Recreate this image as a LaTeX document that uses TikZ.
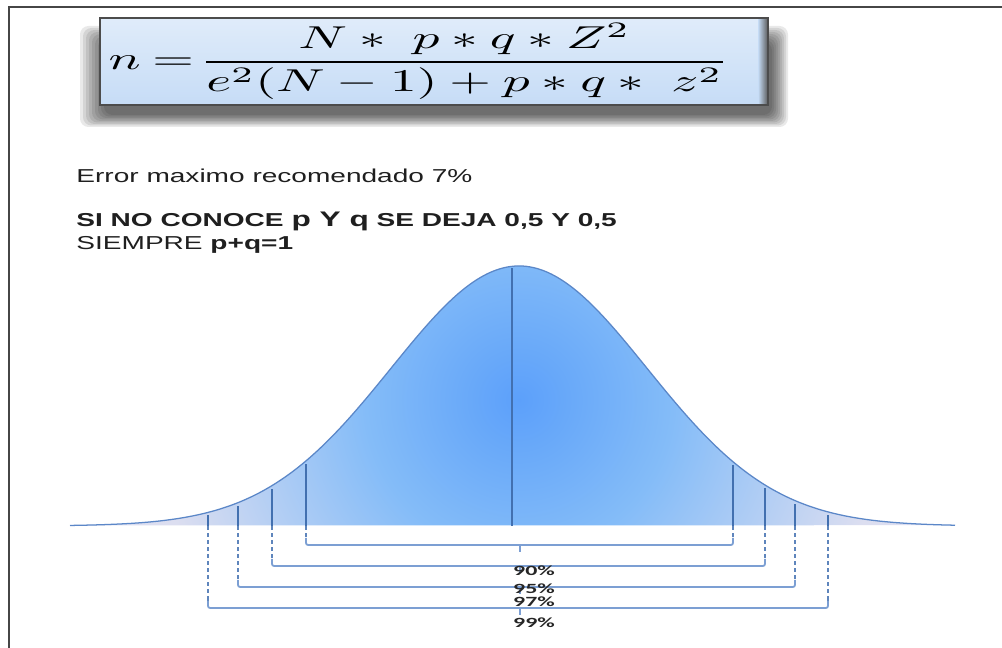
\documentclass[tikz,border=0pt]{standalone}
\usepackage{amsmath}
\usepackage{xcolor}
\usepackage{fontspec}
\setmainfont{Liberation Sans}
\newfontfamily\pctfont{Carlito}
\usepackage{tikz}

\definecolor{boxblue}{HTML}{C6DCF6}
\definecolor{curveline}{HTML}{5B87C8}
\definecolor{tickblue}{HTML}{4270B0}
\definecolor{brkblue}{HTML}{7C9FD3}
\definecolor{bellin}{HTML}{5CA0FA}
\definecolor{bellmid}{HTML}{84BCF8}
\definecolor{bellout}{HTML}{DCDEF0}

\pgfdeclareradialshading{bellshade}{\pgfpoint{0bp}{0bp}}{%
  color(0bp)=(bellin); color(8bp)=(bellmid); color(19bp)=(bellout); color(50bp)=(bellout)}

\tikzset{
  txt/.style={font=\fontsize{13.3}{16}\selectfont,text=black!88,xscale=1.5,transform shape,inner sep=0pt,anchor=base west},
  pct/.style={font=\pctfont\bfseries\fontsize{10}{10}\selectfont,text=black!85,xscale=1.7,transform shape,inner sep=0pt},
  tick/.style={tickblue,line width=1.1pt},
  guide/.style={tickblue!85,line width=0.8pt,dash pattern=on 3pt off 2pt},
  brk/.style={brkblue,line width=1.3pt,rounded corners=1.5pt}
}

\begin{document}
\begin{tikzpicture}[x=0.025cm,y=-0.025cm,
  declare function={bell(\t)=526-260*exp(-0.5*((\t-519)/128)^2);}]
\useasboundingbox (0,0) rectangle (1002,648);
\fill[white] (0,0) rectangle (1002,648);
\draw[gray!55!black,line width=1.2pt] (9,648) -- (9,7) -- (1002,7);

% formula box with soft shadow
\foreach \s in {0,...,8}
  \fill[black,opacity=0.085,rounded corners=6pt] (104-3*\s,42-2*\s) rectangle (772+2*\s,115+1.5*\s);
\shade[top color=boxblue!55!white,bottom color=boxblue] (100,18) rectangle (768,105);
\shade[left color=boxblue,right color=gray!70!black] (758,18) rectangle (768,105);
\draw[gray!60!black,line width=1pt] (100,18) rectangle (768,105);
\begin{scope}
\clip (101,19) rectangle (767,104);
\node[anchor=base east,xscale=3.8,yscale=2.25,transform shape,inner sep=0pt] (formula) at (730,70)
  {$n\mkern-1mu=\mkern-3mu\dfrac{N *\ p*q*Z^2}{e^2(N-1)+p*q*\ z^2}$};
\end{scope}

% texts
\node[txt] (err) at (76,183) {Error maximo recomendado 7\%};
\node[txt] (rule) at (76,227) {\bfseries SI NO CONOCE {\fontsize{15}{16}\selectfont p Y q} SE DEJA 0,5 Y 0,5};
\node[txt] (sum) at (76,250) {SIEMPRE \textbf{p+q=1}};

% bell curve
\begin{scope}
\clip plot[domain=70:955,samples=160,smooth] (\x,{bell(\x)}) -- cycle;
\shade[shading=bellshade] (519,400) circle (12cm);
\end{scope}
\draw[curveline,line width=0.9pt] plot[domain=70:955,samples=160,smooth] (\x,{bell(\x)});

% tick feet
\coordinate (t99l) at (208,526);
\coordinate (t97l) at (238,526);
\coordinate (t95l) at (272,526);
\coordinate (t90l) at (306,526);
\coordinate (mid) at (512,526);
\coordinate (t90r) at (733,526);
\coordinate (t95r) at (765,526);
\coordinate (t97r) at (795,526);
\coordinate (t99r) at (828,526);

\draw[tick] (mid) -- (512,{bell(512)+2});
\draw[tick] (t90l) -- (306,{bell(306)+3});
\draw[tick] (t95l) -- (272,{bell(272)+3});
\draw[tick] (t97l) -- (238,{bell(238)+3});
\draw[tick] (t99l) -- (208,{bell(208)+3});
\draw[tick] (t90r) -- (733,{bell(733)+3});
\draw[tick] (t95r) -- (765,{bell(765)+3});
\draw[tick] (t97r) -- (795,{bell(795)+3});
\draw[tick] (t99r) -- (828,{bell(828)+3});

% dashed guides and brackets
\draw[guide] (t90l) -- ++(0,12);
\draw[guide] (t90r) -- ++(0,12);
\draw[brk] ([yshift=-12*0.025cm]t90l) |- (733,545) -- ++(0,-7);
\draw[brk] (520,545) -- (520,552);

\draw[guide] (t95l) -- ++(0,33);
\draw[guide] (t95r) -- ++(0,33);
\draw[brk] ([yshift=-33*0.025cm]t95l) |- (765,566) -- ++(0,-7);
\draw[brk] (520,566) -- (520,573);

\draw[guide] (t97l) -- ++(0,54);
\draw[guide] (t97r) -- ++(0,54);
\draw[brk] ([yshift=-54*0.025cm]t97l) |- (795,587) -- ++(0,-7);
\draw[brk] (520,587) -- (520,594);

\draw[guide] (t99l) -- ++(0,75);
\draw[guide] (t99r) -- ++(0,75);
\draw[brk] ([yshift=-75*0.025cm]t99l) |- (828,608) -- ++(0,-7);
\draw[brk] (520,608) -- (520,615);

% confidence labels
\node[pct] (p90) at (534,571) {90\%};
\node[pct] (p95) at (534,589) {95\%};
\node[pct] (p97) at (534,602) {97\%};
\node[pct] (p99) at (534,623) {99\%};
\end{tikzpicture}
\end{document}
